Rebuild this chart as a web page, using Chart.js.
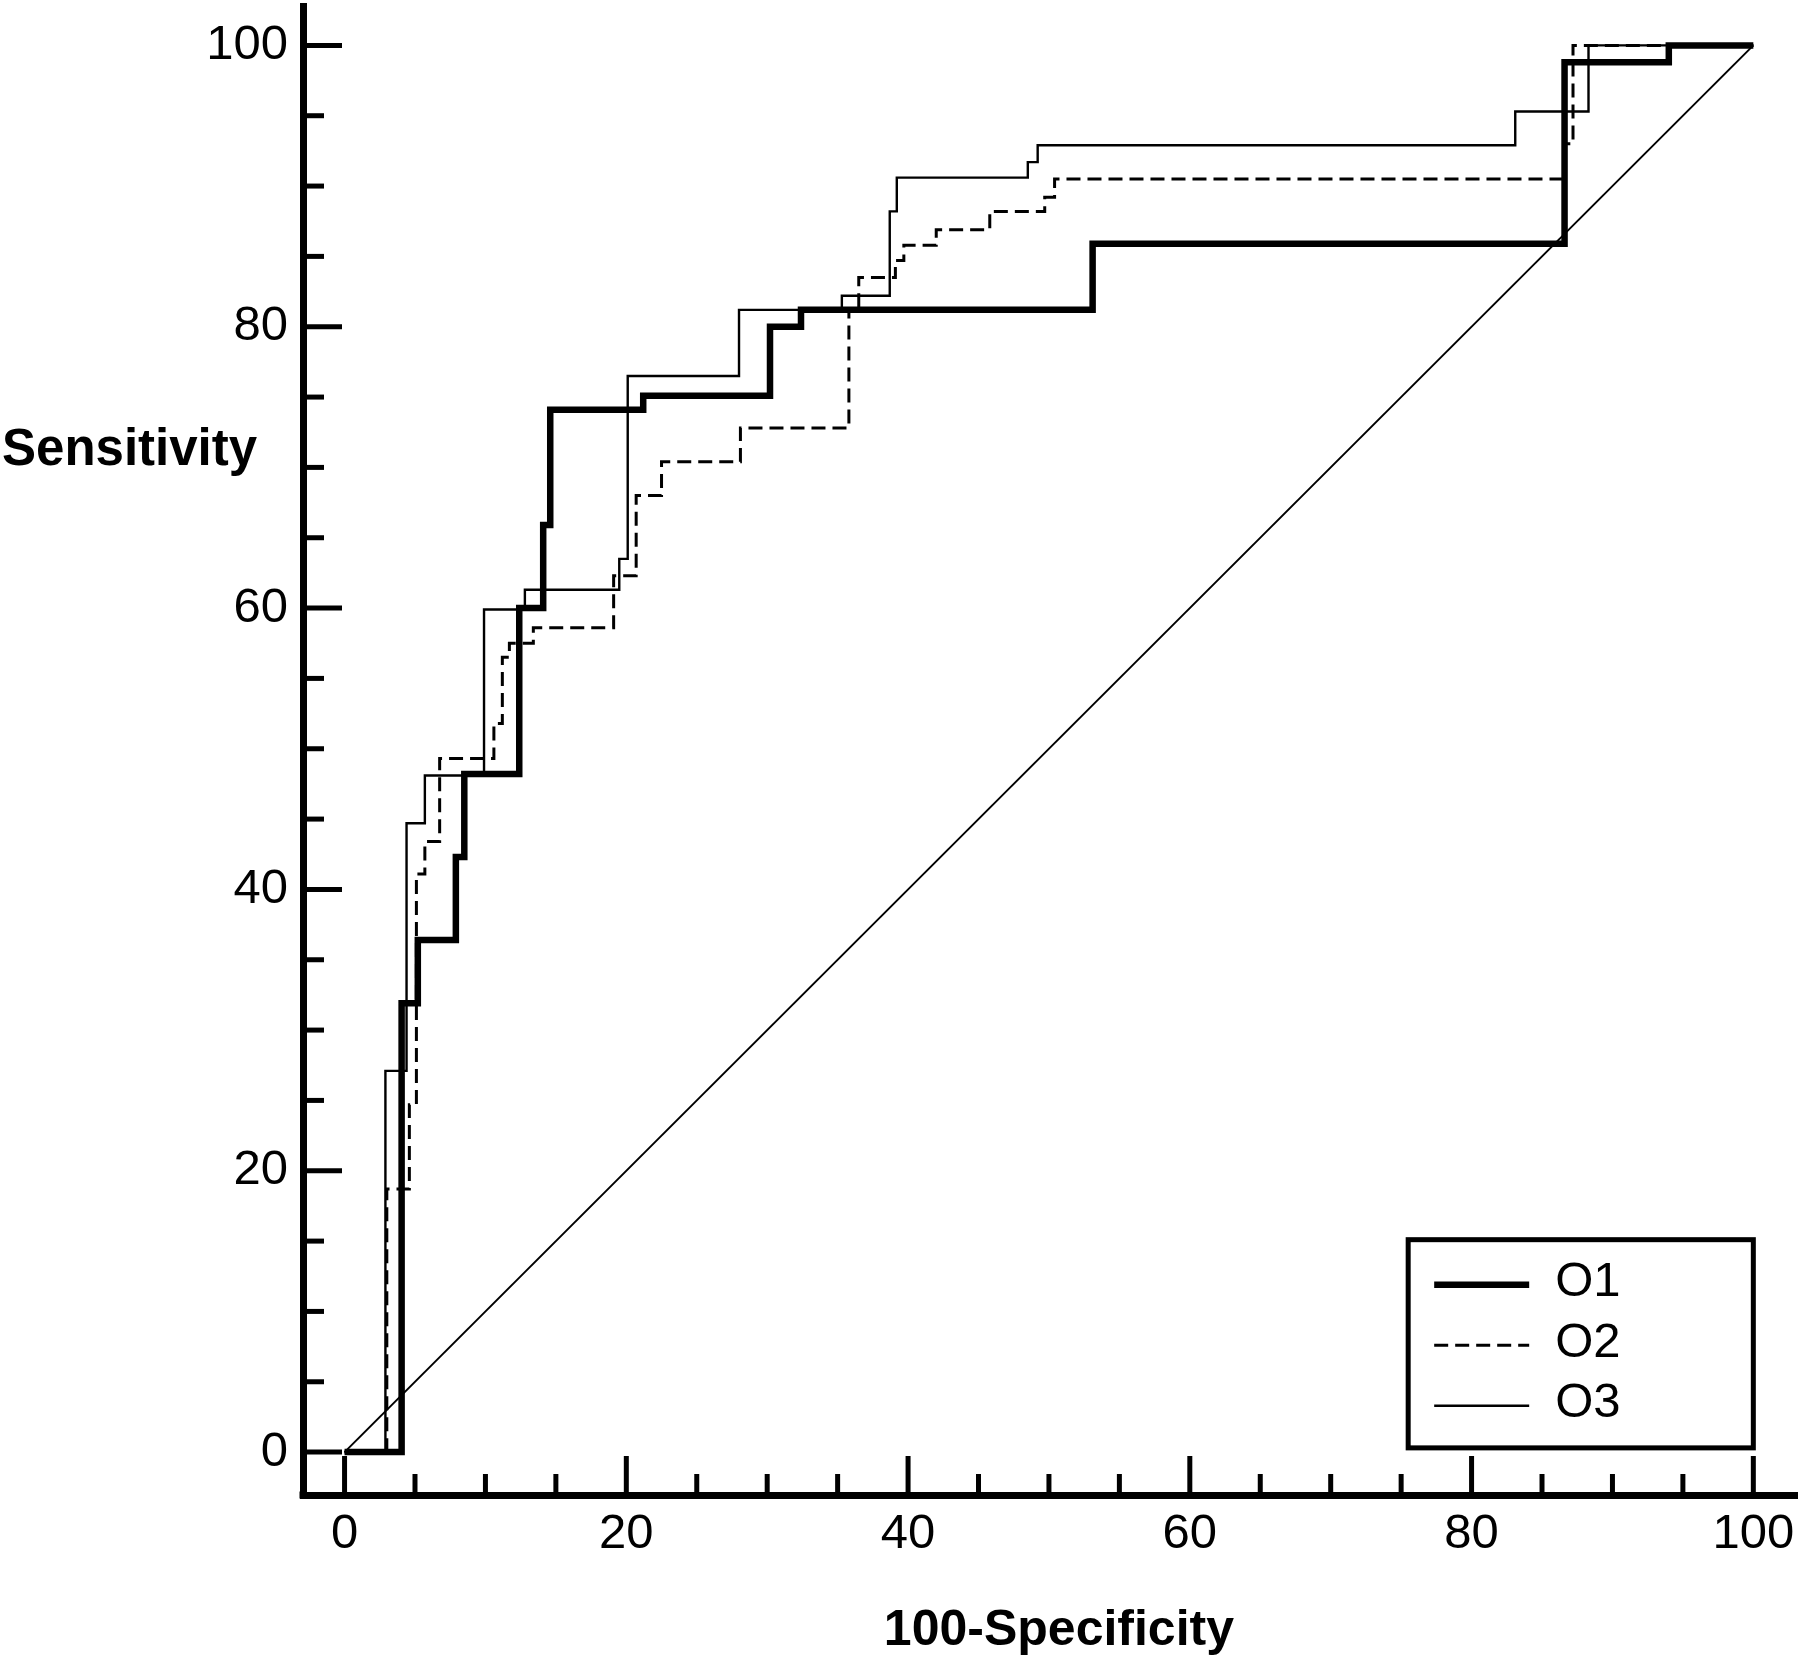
<!DOCTYPE html>
<html>
<head>
<meta charset="utf-8">
<title>ROC curves</title>
<script src="https://cdn.jsdelivr.net/npm/chart.js@4/dist/chart.umd.min.js"></script>
<style>
  html, body { margin: 0; padding: 0; background: #fff; }
  #roc { display: block; }
</style>
</head>
<body>
<canvas id="roc" width="1800" height="1664"></canvas>
<script>
// ROC operating points (100-Specificity, Sensitivity)
const o1Fpr  = [0, 4.05, 5.2, 7.9, 8.5, 12.4, 14.1, 14.6, 21.2, 30.2, 32.4, 53.1, 86.6, 94, 100];
const o1Sens = [0, 0, 31.9, 36.4, 42.3, 48.2, 60.0, 65.9, 74.1, 75.1, 80.0, 81.2, 85.9, 98.8, 100];

const o2Fpr  = [0, 3.0, 4.6, 5.1, 5.7, 6.75, 10.6, 11.2, 11.7, 13.4, 19.1, 20.7, 22.5, 28.1, 35.8, 36.5, 39.1, 39.7, 42.0, 45.8, 49.7, 50.4, 86.6, 87.2, 100];
const o2Sens = [0, 0, 18.7, 24.7, 41.1, 43.4, 49.3, 51.8, 56.5, 57.5, 58.6, 62.3, 68.0, 70.4, 72.8, 81.2, 83.5, 84.7, 85.8, 86.9, 88.2, 89.2, 90.5, 93.0, 100];

const o3Fpr  = [0, 2.9, 4.4, 5.7, 9.9, 12.8, 19.5, 20.1, 28.0, 35.3, 38.7, 39.2, 48.5, 49.2, 83.1, 88.3, 100];
const o3Sens = [0, 0, 27.1, 44.7, 48.1, 59.9, 61.3, 63.5, 76.5, 81.2, 82.2, 88.2, 90.6, 91.7, 92.9, 95.3, 100];

// chance line
const refX = [0, 100];
const refY = [0, 100];

const seriesNames = ["O1", "O2", "O3"];
const majorTicks = [0, 20, 40, 60, 80, 100];
const minorTicks = [];
for (let v = 0; v <= 100; v += 5) minorTicks.push(v);

const FONT = "'Liberation Sans', Arial, Helvetica, sans-serif";

function toPoints(xs, ys) {
  return xs.map((x, i) => ({ x, y: ys[i] }));
}

// inside tick marks, axis titles and the boxed legend
const rocDecor = {
  id: "rocDecor",
  afterDraw(chart) {
    const { ctx, chartArea, scales: { x, y } } = chart;
    ctx.save();
    ctx.strokeStyle = "#000";
    ctx.lineWidth = 5;
    ctx.lineCap = "butt";

    minorTicks.forEach((v) => {
      const len = majorTicks.includes(v) ? 39 : 21;
      const px = x.getPixelForValue(v);
      ctx.beginPath();
      ctx.moveTo(px, chartArea.bottom);
      ctx.lineTo(px, chartArea.bottom - len);
      ctx.stroke();
      const py = y.getPixelForValue(v);
      ctx.beginPath();
      ctx.moveTo(chartArea.left, py);
      ctx.lineTo(chartArea.left + len, py);
      ctx.stroke();
    });

    // close the corner where the two axis lines meet
    ctx.fillStyle = "#000";
    ctx.fillRect(chartArea.left - 3.5, chartArea.bottom - 3.5, 7, 7);

    // axis titles
    ctx.font = "bold 51px " + FONT;
    ctx.textAlign = "left";
    ctx.textBaseline = "alphabetic";
    ctx.fillText("Sensitivity", 2, 465);
    ctx.font = "bold 50px " + FONT;
    ctx.textAlign = "center";
    ctx.fillText("100-Specificity", x.getPixelForValue(50) + 10, 1645);

    // legend box
    const left = x.getPixelForValue(75.5);
    const right = x.getPixelForValue(100);
    const top = y.getPixelForValue(15.1);
    const bottom = y.getPixelForValue(0.3);
    ctx.fillStyle = "#fff";
    ctx.fillRect(left, top, right - left, bottom - top);
    ctx.lineWidth = 5;
    ctx.setLineDash([]);
    ctx.strokeRect(left, top, right - left, bottom - top);

    ctx.font = "49px " + FONT;
    ctx.fillStyle = "#000";
    ctx.textAlign = "left";
    ctx.textBaseline = "middle";
    seriesNames.forEach((name, i) => {
      const ds = chart.data.datasets[i];
      const rowY = top + 45 + i * 60.5;
      ctx.lineWidth = ds.borderWidth;
      ctx.setLineDash(ds.borderDash || []);
      ctx.beginPath();
      ctx.moveTo(left + 26, rowY);
      ctx.lineTo(left + 121, rowY);
      ctx.stroke();
      ctx.setLineDash([]);
      ctx.fillText(name, left + 147, rowY - 2);
    });
    ctx.restore();
  }
};

const lineBase = {
  pointRadius: 0,
  pointHoverRadius: 0,
  fill: false,
  tension: 0,
  borderColor: "#000",
  borderJoinStyle: "miter",
  borderCapStyle: "butt"
};

new Chart(document.getElementById("roc"), {
  type: "line",
  data: {
    datasets: [
      { ...lineBase, label: seriesNames[0], data: toPoints(o1Fpr, o1Sens), borderWidth: 6.5, stepped: "after" },
      { ...lineBase, label: seriesNames[1], data: toPoints(o2Fpr, o2Sens), borderWidth: 3, borderDash: [14, 7], stepped: "after" },
      { ...lineBase, label: seriesNames[2], data: toPoints(o3Fpr, o3Sens), borderWidth: 2.4, stepped: "after" },
      { ...lineBase, label: "reference", data: toPoints(refX, refY), borderWidth: 2 }
    ]
  },
  options: {
    responsive: false,
    animation: false,
    devicePixelRatio: 1,
    layout: { padding: { top: 6, right: 3, left: 0, bottom: 0 } },
    plugins: {
      legend: { display: false },
      tooltip: { enabled: false }
    },
    scales: {
      x: {
        type: "linear",
        min: -2.95,
        max: 103.1,
        afterFit: (scale) => {
          scale.height = 169;
          scale.paddingLeft = 0;
          scale.paddingRight = 0;
        },
        afterBuildTicks: (scale) => { scale.ticks = majorTicks.map((value) => ({ value })); },
        grid: { display: false, drawTicks: false },
        border: { display: true, width: 7, color: "#000" },
        ticks: {
          padding: 10,
          color: "#000",
          maxRotation: 0,
          autoSkip: false,
          font: { family: FONT, size: 49 }
        }
      },
      y: {
        type: "linear",
        min: -3.05,
        max: 102.8,
        afterFit: (scale) => {
          scale.width = 303;
          scale.paddingTop = 0;
          scale.paddingBottom = 0;
        },
        afterBuildTicks: (scale) => { scale.ticks = majorTicks.map((value) => ({ value })); },
        grid: { display: false, drawTicks: false },
        border: { display: true, width: 7, color: "#000" },
        ticks: {
          padding: 15,
          color: "#000",
          autoSkip: false,
          font: { family: FONT, size: 49 }
        }
      }
    }
  },
  plugins: [rocDecor]
});
</script>
</body>
</html>
